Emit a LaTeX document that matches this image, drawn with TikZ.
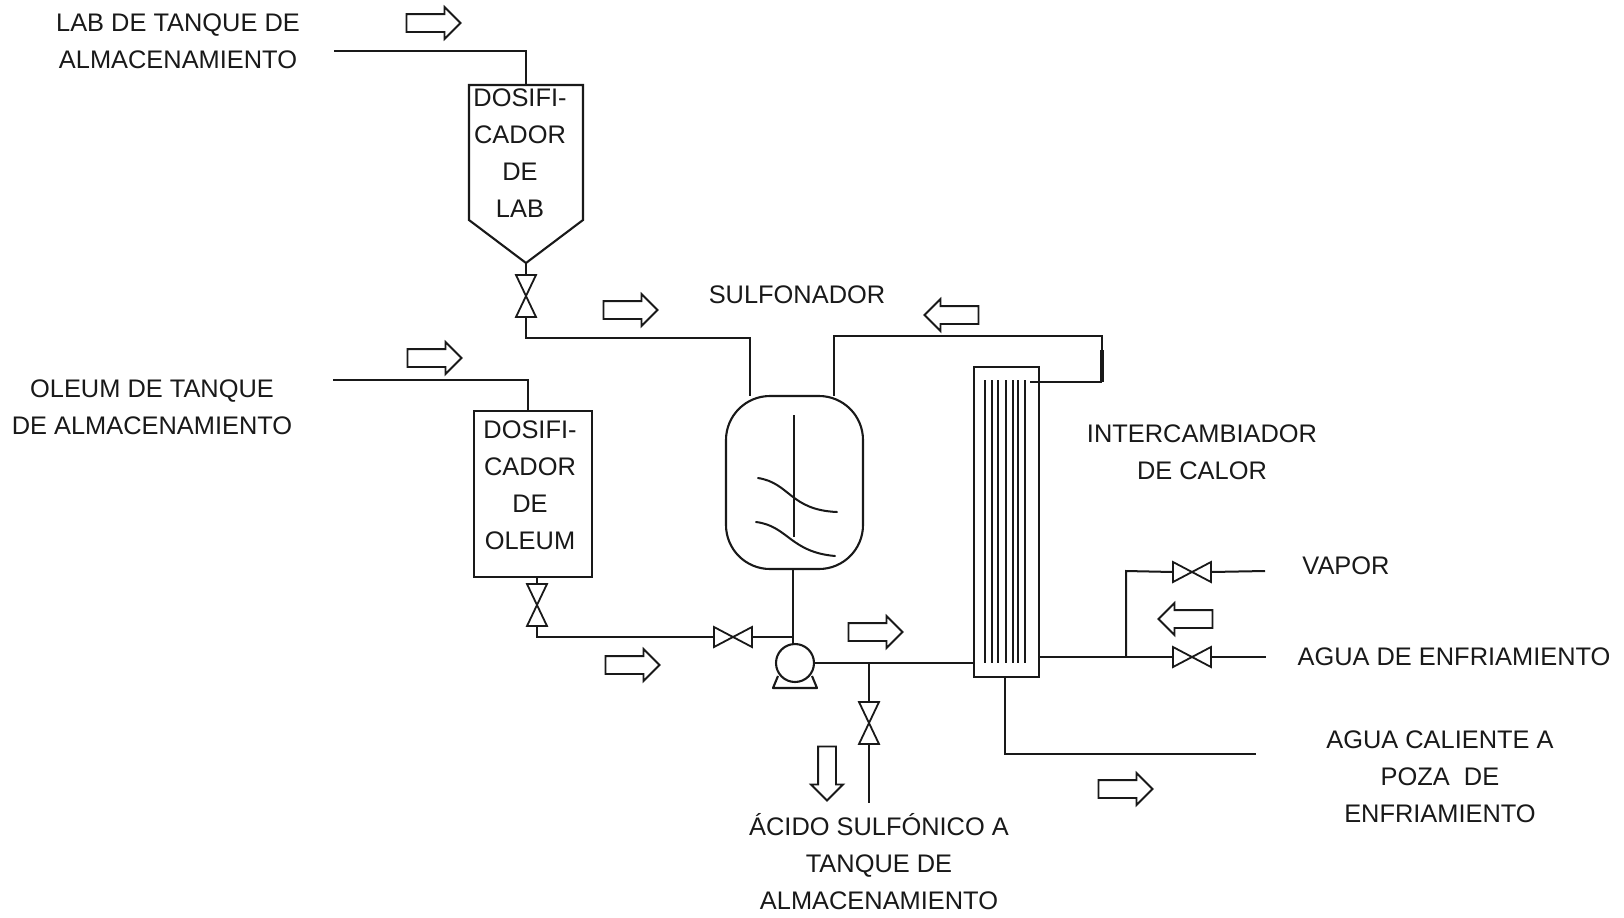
\documentclass[tikz,border=0pt]{standalone}
\usepackage{fontspec}
\setmainfont{Liberation Sans}
\usetikzlibrary{shapes.arrows,calc}
\tikzset{
  pipe/.style={draw=black!90,line width=1pt,line join=miter},
  vessel/.style={draw=black!90,line width=1.05pt},
  label/.style={align=center,font=\fontsize{12.7}{18.5}\selectfont,text=black!90,inner sep=0pt},
  flow/.style={draw=black!90,line width=.95pt,fill=white,single arrow,inner sep=0pt,
    minimum height=27pt,minimum width=15pt,single arrow head extend=3.5pt,single arrow head indent=0pt},
  valveh/.pic={
    \draw[pipe,line width=.9pt] (-19,-10)--(-19,10)--(19,-10)--(19,10)--cycle;
    \coordinate (-a) at (-19,0); \coordinate (-b) at (19,0);},
  valvev/.pic={
    \draw[pipe,line width=.9pt] (-10,-21)--(10,-21)--(-10,21)--(10,21)--cycle;
    \coordinate (-a) at (0,-21); \coordinate (-b) at (0,21);}
}
\begin{document}
\begin{tikzpicture}[x=0.5pt,y=-0.5pt]
\path[fill=white,use as bounding box] (0,0) rectangle (1624,917);
% labels
\node[label] (tlab) at (178,41) {LAB DE TANQUE DE\\ALMACENAMIENTO};
\node[label] (tole) at (152,407) {OLEUM DE TANQUE\\DE ALMACENAMIENTO};
\node[label] (tsul) at (797,295) {SULFONADOR};
\node[label] (tint) at (1202,452) {INTERCAMBIADOR\\DE CALOR};
\node[label] (tvap) at (1346,566) {VAPOR};
\node[label] (tagu) at (1454,657) {AGUA DE ENFRIAMIENTO};
\node[label] (tcal) at (1440,777) {AGUA CALIENTE A\\POZA\ \ DE\\ENFRIAMIENTO};
\node[label] (taci) at (879,862) {ÁCIDO SULFÓNICO A\\TANQUE DE\\ALMACENAMIENTO};
\node[label] (tdl) at (520,153) {DOSIFI-\\CADOR\\DE\\LAB};
\node[label] (tdo) at (530,485) {DOSIFI-\\CADOR\\DE\\OLEUM};
% LAB doser
\coordinate (hl) at (469,85); \coordinate (hr) at (583,85);
\coordinate (hbr) at (583,220); \coordinate (hap) at (526,263); \coordinate (hbl) at (469,220);
\draw[vessel] (hl)--(hr)--(hbr)--(hap)--(hbl)--cycle;
\coordinate (s1) at (334,51); \coordinate (s1c) at (526,51); \coordinate (hin) at (526,85);
\draw[pipe] (s1)--(s1c)--(hin);
\pic (vlab) at (526,296) {valvev};
\draw[pipe] (hap)--(vlab-a);
% reactor
\node[vessel,draw,rounded corners=22pt,minimum width=68.5pt,minimum height=86.5pt,inner sep=0pt] (rx) at (794.5,482.5) {};
\coordinate (rxa) at (750,396); \coordinate (rxb) at (834,396);
\coordinate (c1) at (526,338); \coordinate (c2) at (750,338);
\draw[pipe] (vlab-b)--(c1)--(c2)--(rxa);
\coordinate (sh1) at (794,415); \coordinate (sh2) at (794,537);
\draw[pipe] (sh1)--(sh2);
\draw[pipe,line cap=round] (758,478) .. controls (790,483) and (790,510) .. (837,512);
\draw[pipe,line cap=round] (756,522) .. controls (788,526) and (790,552) .. (835,556);
% oleum doser
\node[vessel,draw,minimum width=59pt,minimum height=83pt,inner sep=0pt] (dol) at (533,494) {};
\coordinate (s2) at (333,380); \coordinate (s2c) at (528,380); \coordinate (dolt) at (528,411);
\draw[pipe] (s2)--(s2c)--(dolt);
\pic (vole) at (537,605) {valvev};
\coordinate (dolb) at (537,577); \coordinate (c3) at (537,637);
\draw[pipe] (dolb)--(vole-a);
\pic (vfd) at (733,637) {valveh};
\coordinate (jn) at (793,637);
\draw[pipe] (vole-b)--(c3)--(vfd-a);
\draw[pipe] (vfd-b)--(jn);
\coordinate (rxo) at (793,569);
\draw[pipe] (rxo)--(jn);
% pump
\node[vessel,draw,circle,minimum size=19pt,inner sep=0pt] (pump) at (795,663) {};
\draw[vessel,line join=round] (778,676)--(773,688)--(817,688)--(812,676);
\draw[pipe] (jn)--(pump.north-|jn);
% exchanger
\node[vessel,draw,minimum width=32.5pt,minimum height=155pt,inner sep=0pt] (hx) at (1006.5,522) {};
\foreach \tx in {985,992,998,1006,1013,1018,1025}
  \draw[draw=black!90,line width=1.15pt] (\tx,380)--(\tx,663);
\draw[pipe] (pump.east)--(hx.west|-pump.east);
\coordinate (br) at (869,662);
\pic (vac) at (869,723) {valvev};
\coordinate (acend) at (869,803);
\draw[pipe] (br)--(vac-a);
\draw[pipe] (vac-b)--(acend);
% recycle
\coordinate (r1) at (1030,382); \coordinate (r2) at (1102,382); \coordinate (r3) at (1102,336); \coordinate (r4) at (834,336);
\draw[pipe] (r1)--(r2);
\draw[pipe,line width=1.8pt] (r2)--(1102,350);
\draw[pipe] (1102,350)--(r3)--(r4)--(rxb);
% utilities
\coordinate (u0) at (1039,657); \coordinate (ub) at (1126,657); \coordinate (uc) at (1126,571);
\coordinate (uae) at (1266,657); \coordinate (uve) at (1265,571);
\pic (vag) at (1192,657) {valveh};
\pic (vva) at (1192,572) {valveh};
\draw[pipe] (u0)--(vag-a);
\draw[pipe] (vag-b)--(uae);
\draw[pipe] (ub)--(uc)--(vva-a);
\draw[pipe] (vva-b)--(uve);
\coordinate (w0) at (1005,677); \coordinate (w1) at (1005,754); \coordinate (w2) at (1256,754);
\draw[pipe] (w0)--(w1)--(w2);
% flow arrows
\node[flow] (f1) at (429,23) {\rule{0pt}{8pt}};
\node[flow] (f2) at (430,358) {\rule{0pt}{8pt}};
\node[flow] (f3) at (626,310) {\rule{0pt}{8pt}};
\node[flow] (f4) at (628,665) {\rule{0pt}{8pt}};
\node[flow] (f5) at (871,632) {\rule{0pt}{8pt}};
\node[flow] (f6) at (1121,789) {\rule{0pt}{8pt}};
\node[flow,rotate=180] (f7) at (956,315) {\rule{0pt}{8pt}};
\node[flow,rotate=180] (f8) at (1190,619) {\rule{0pt}{8pt}};
\node[flow,rotate=-90] (f9) at (827,769) {\rule{0pt}{8pt}};
\end{tikzpicture}
\end{document}
